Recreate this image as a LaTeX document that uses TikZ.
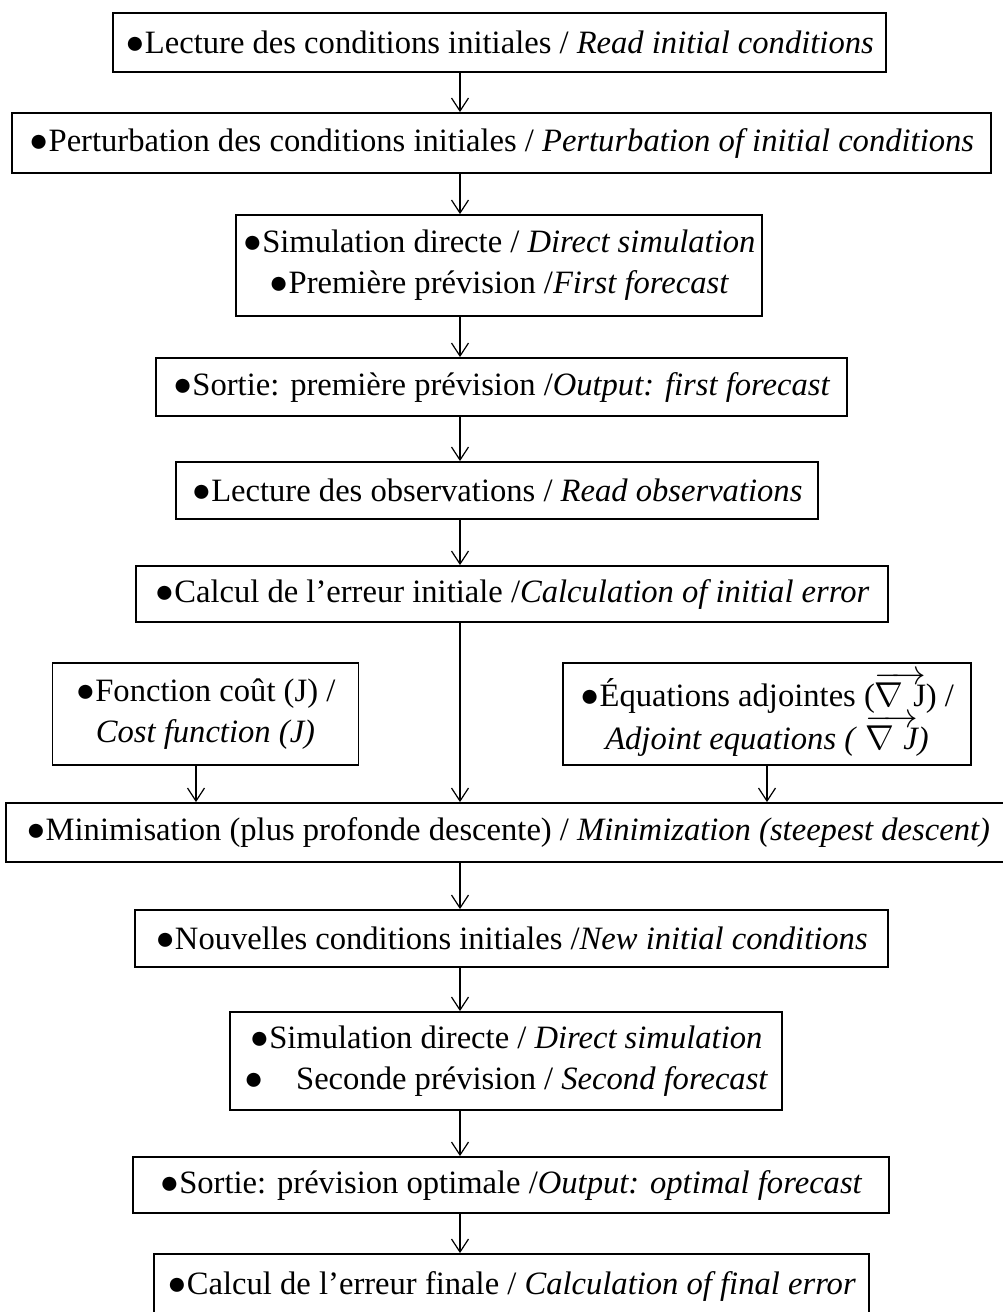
\documentclass[tikz,border=0pt]{standalone}
\usepackage{fontspec}
\setmainfont{Liberation Serif}
\usetikzlibrary{arrows.meta}
\begin{document}
\begin{tikzpicture}[x=0.5pt,y=-0.5pt,
    box/.style={draw, line width=0.9pt, rectangle, inner sep=0pt, align=center,
      font=\fontsize{16.3}{20.5}\selectfont},
    arr/.style={-{Straight Barb[length=6.5pt,width=8.5pt]}, line width=0.6pt}]
  \useasboundingbox (0,0) rectangle (1002,1312);
  \coordinate (axis) at (460,0);

  \node[box, minimum width=386.5pt, minimum height=29.5pt] (lecture) at (499.5,42.5)
    {●Lecture des conditions initiales / \textit{Read initial conditions}};
  \node[box, minimum width=489.5pt, minimum height=30pt] (perturb) at (501.5,143)
    {●Perturbation des conditions initiales / \textit{Perturbation of initial conditions}};
  \node[box, minimum width=263pt, minimum height=50.5pt] (simA) at (499,265.5)
    {●Simulation directe / \textit{Direct simulation}\\●Première prévision /\textit{First forecast}};
  \node[box, minimum width=345.5pt, minimum height=29pt] (sortieA) at (501.5,387)
    {●Sortie: première prévision /\textit{Output: first forecast}};
  \node[box, minimum width=321pt, minimum height=28.5pt] (obs) at (497,490.5)
    {●Lecture des observations / \textit{Read observations}};
  \node[box, minimum width=376pt, minimum height=28pt] (errinit) at (512,594)
    {●Calcul de l’erreur initiale /\textit{Calculation of initial error}};

  \node[box, minimum width=153pt, minimum height=51pt] (cout) at (205.5,714)
    {●Fonction coût (J) /\\\textit{Cost function (J)}};
  \node[box, minimum width=204pt, minimum height=51pt] (adjoint) at (767,714)
    {●Équations adjointes ($\overrightarrow{\nabla\;\mbox{J}}$) /\\
     \textit{Adjoint equations (~}$\overrightarrow{\nabla\;\mbox{\itshape J}}$\textit{)}};

  \node[box, minimum width=502pt, minimum height=29.5pt] (mini) at (508,832.5)
    {●Minimisation (plus profonde descente) / \textit{Minimization (steepest descent)}};
  \node[box, minimum width=376.5pt, minimum height=28.5pt] (newci) at (511.5,938.5)
    {●Nouvelles conditions initiales /\textit{New initial conditions}};
  \node[box, minimum width=276pt, minimum height=49pt] (simB) at (506,1061)
    {●Simulation directe / \textit{Direct simulation}\\●\quad Seconde prévision / \textit{Second forecast}};
  \node[box, minimum width=378pt, minimum height=28pt] (sortieB) at (511,1185)
    {●Sortie: prévision optimale /\textit{Output: optimal forecast}};
  \node[box, minimum width=357.5pt, minimum height=32pt] (errfin) at (511.5,1286)
    {●Calcul de l’erreur finale / \textit{Calculation of final error}};

  \draw[arr] (lecture.south -| axis) -- (perturb.north -| axis);
  \draw[arr] (perturb.south -| axis) -- (simA.north -| axis);
  \draw[arr] (simA.south -| axis) -- (sortieA.north -| axis);
  \draw[arr] (sortieA.south -| axis) -- (obs.north -| axis);
  \draw[arr] (obs.south -| axis) -- (errinit.north -| axis);
  \draw[arr] (errinit.south -| axis) -- (mini.north -| axis);
  \draw[arr] (cout.south -| 196,0) -- (mini.north -| 196,0);
  \draw[arr] (adjoint.south) -- (mini.north -| adjoint.south);
  \draw[arr] (mini.south -| axis) -- (newci.north -| axis);
  \draw[arr] (newci.south -| axis) -- (simB.north -| axis);
  \draw[arr] (simB.south -| axis) -- (sortieB.north -| axis);
  \draw[arr] (sortieB.south -| axis) -- (errfin.north -| axis);
\end{tikzpicture}
\end{document}
